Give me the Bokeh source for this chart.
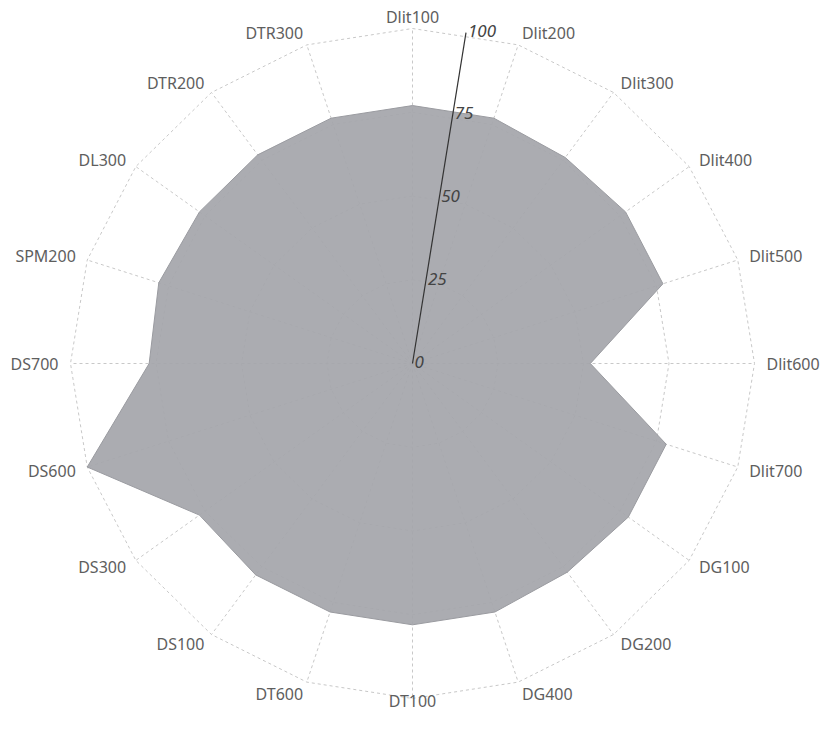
import numpy as np
from bokeh.plotting import figure
from bokeh.models import ColumnDataSource, Range1d
from bokeh.core.properties import value
from bokeh.embed import file_html
from bokeh.resources import INLINE

# ---- data ----
categories = ["Dlit100", "Dlit200", "Dlit300", "Dlit400", "Dlit500", "Dlit600", "Dlit700",
              "DG100", "DG200", "DG400", "DT100", "DT600", "DS100", "DS300", "DS600",
              "DS700", "SPM200", "DL300", "DTR200", "DTR300"]
values = [77, 77, 76, 77, 77, 52, 78, 78, 77, 78, 78, 78, 78, 77, 100, 77, 78, 77, 77, 77]
radial_ticks = [0, 25, 50, 75, 100]
radial_tick_labels = ["0", "25", "50", "75", "100"]
max_value = 100

# ---- layout ----
W, H = 822, 714
CX, CY = 412, 363          # centre in figure pixels
SX, SY = 3.42, 3.35        # pixels per unit

p = figure(width=W, height=H, output_backend="svg", toolbar_location=None,
           x_range=Range1d(-CX / SX, (W - CX) / SX),
           y_range=Range1d(-(H - CY) / SY, CY / SY),
           min_border=0)
p.axis.visible = False
p.grid.visible = False
p.outline_line_color = None
p.background_fill_color = "white"
p.border_fill_color = "white"

n = len(categories)
theta = np.pi / 2 - 2 * np.pi * np.arange(n) / n
ct, st = np.cos(theta), np.sin(theta)

# grid rings (polygonal) and spokes
ring_xs, ring_ys = [], []
for t in radial_ticks[1:]:
    ring_xs.append(list(t * ct) + [t * ct[0]])
    ring_ys.append(list(t * st) + [t * st[0]])
p.multi_line(ring_xs, ring_ys, line_color="#c8c8c8", line_width=1, line_dash="3 3")
p.multi_line([[0, max_value * c] for c in ct], [[0, max_value * s] for s in st],
             line_color="#c8c8c8", line_width=1, line_dash="3 3")

# data polygon
v = np.array(values, dtype=float)
p.patch(list(v * ct), list(v * st), fill_color="#a5a6ab", fill_alpha=0.93,
        line_color="#9a9ba0", line_width=1)

# radial axis (half a step clockwise from top)
ang = np.pi / 2 - np.pi / n
p.line([0, max_value * np.cos(ang)], [0, max_value * np.sin(ang)],
       line_color="#333333", line_width=1.2)
tick_src = ColumnDataSource(dict(
    x=[t * np.cos(ang) for t in radial_ticks],
    y=[t * np.sin(ang) for t in radial_ticks],
    txt=radial_tick_labels))
p.text(x="x", y="y", text="txt", source=tick_src, x_offset=2, y_offset=-2,
       text_font=value("Noto Sans"), text_font_size="17px", text_font_style="italic",
       text_color="#444444", text_align="left", text_baseline="middle")

# category labels
gap = np.where(st < -0.99, 2.0, 12.0)
align = ["left" if c > 0.05 else ("right" if c < -0.05 else "center") for c in ct]
lab_src = ColumnDataSource(dict(
    x=list(max_value * ct), y=list(max_value * st), txt=categories,
    xo=list(gap * ct), yo=list(-gap * st), al=align))
p.text(x="x", y="y", text="txt", source=lab_src, x_offset="xo", y_offset="yo",
       text_align="al", text_baseline="middle",
       text_font=value("Noto Sans"), text_font_size="16px", text_color="#5e5e5e")

open("out.html", "w").write(file_html(p, INLINE))
